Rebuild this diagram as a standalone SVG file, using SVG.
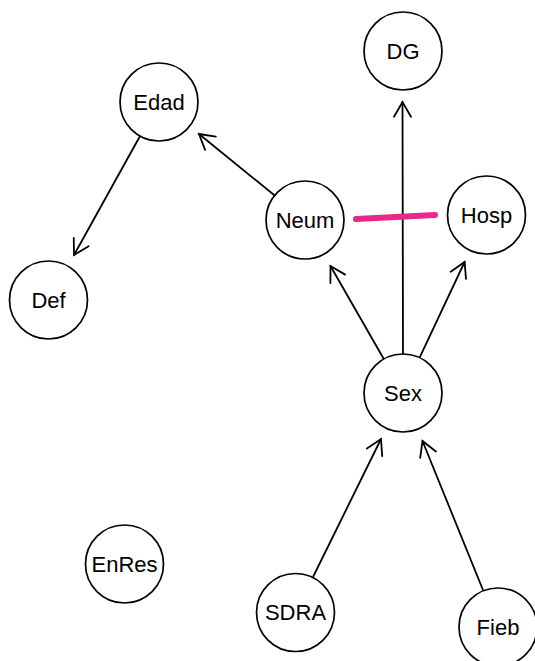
<svg xmlns="http://www.w3.org/2000/svg" width="535" height="661" viewBox="0 0 535 661">
<style>
.node circle{fill:#fff;stroke:#000;stroke-width:1.7}
.node text{font-family:"Liberation Sans",Arial,sans-serif;font-size:22px;text-anchor:middle;fill:#000}
.edge{stroke:#000;stroke-width:1.8;fill:none;stroke-linecap:round}
.head{stroke:#000;stroke-width:1.8;fill:none;stroke-linecap:round;stroke-linejoin:miter}
</style>
<rect width="535" height="661" fill="#fff"/>
<g id="connectors">
<!-- Sex -> DG -->
<line class="edge" x1="403" y1="354" x2="402.5" y2="102"/>
<polyline class="head" points="394,116.7 402.5,102 411,116.7"/>
<!-- Neum -> Edad -->
<line class="edge" x1="274.7" y1="195.5" x2="199" y2="134"/>
<polyline class="head" points="205.1,149.9 199,134 215.8,136.7"/>
<!-- Edad -> Def -->
<line class="edge" x1="139.5" y1="137" x2="74" y2="255"/>
<polyline class="head" points="88.6,246.3 74,255 73.75,238"/>
<!-- Sex -> Neum -->
<line class="edge" x1="383.8" y1="359" x2="330.5" y2="266"/>
<polyline class="head" points="330.4,283 330.5,266 345.2,274.6"/>
<!-- Sex -> Hosp -->
<line class="edge" x1="419.6" y1="357.7" x2="464.6" y2="262"/>
<polyline class="head" points="450.7,271.7 464.6,262 466,278.9"/>
<!-- SDRA -> Sex -->
<line class="edge" x1="313.5" y1="576" x2="381" y2="439"/>
<polyline class="head" points="366.9,448.5 381,439 382.2,456"/>
<!-- Fieb -> Sex -->
<line class="edge" x1="483" y1="590" x2="422.5" y2="441"/>
<polyline class="head" points="420.2,457.8 422.5,441 435.9,451.5"/>
<!-- Neum - Hosp highlighted -->
<line x1="356" y1="219" x2="435" y2="215" stroke="#E7298A" stroke-width="6" stroke-linecap="round"/>
</g>
<g id="node-DG" class="node"><circle cx="403" cy="51" r="39"/><text x="403" y="58.5">DG</text></g>
<g id="node-Edad" class="node"><circle cx="159" cy="102" r="39"/><text x="159" y="109.5">Edad</text></g>
<g id="node-Neum" class="node"><circle cx="305" cy="220" r="39"/><text x="305" y="227.5">Neum</text></g>
<g id="node-Hosp" class="node"><circle cx="486.5" cy="215" r="39"/><text x="486.5" y="222.5">Hosp</text></g>
<g id="node-Def" class="node"><circle cx="48.5" cy="300" r="39"/><text x="48.5" y="307.5">Def</text></g>
<g id="node-Sex" class="node"><circle cx="403" cy="393" r="39"/><text x="403" y="400.5">Sex</text></g>
<g id="node-EnRes" class="node"><circle cx="124.5" cy="564" r="39"/><text x="124.5" y="571.5">EnRes</text></g>
<g id="node-SDRA" class="node"><circle cx="295.5" cy="612.5" r="39"/><text x="295.5" y="620">SDRA</text></g>
<g id="node-Fieb" class="node"><circle cx="498" cy="627" r="39"/><text x="498" y="634.5">Fieb</text></g>
</svg>
